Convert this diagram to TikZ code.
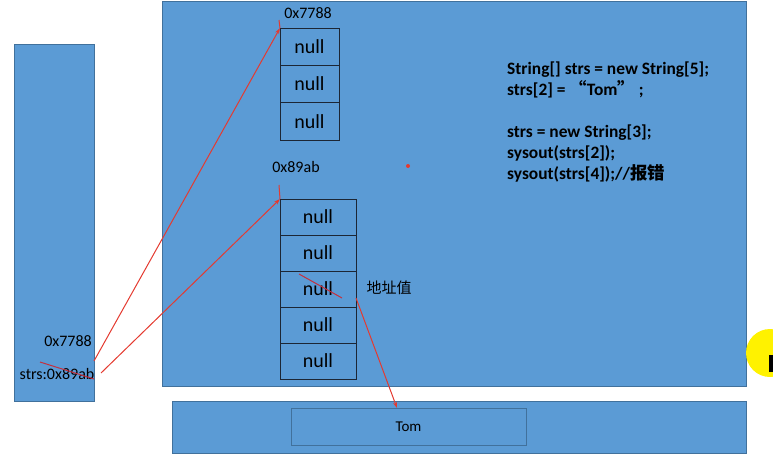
\documentclass[tikz,border=0pt]{standalone}
\usepackage{fontspec}
\setmainfont{Carlito}
\newfontfamily\cjk{Noto Sans CJK SC}
\usetikzlibrary{arrows.meta,positioning}
\definecolor{boxblue}{RGB}{91,155,213}
\definecolor{boxline}{RGB}{65,113,156}
\definecolor{cellline}{RGB}{28,38,52}
\definecolor{ptrred}{RGB}{228,58,48}
\definecolor{crossred}{RGB}{196,48,62}
\tikzset{
	area/.style={draw=boxline, fill=boxblue, line width=0.8pt},
	cell/.style={draw=cellline, line width=0.9pt, inner sep=0pt, outer sep=0pt, font=\fontsize{20}{24}\selectfont},
	shortcell/.style={cell, minimum width=59pt, minimum height=37.3pt},
	longcell/.style={cell, minimum width=76pt, minimum height=36pt},
	ptr/.style={draw=ptrred, line width=1pt, -{Stealth[length=6pt,width=4pt]}},
	lbl/.style={inner sep=0pt, font=\fontsize{16}{19}\selectfont},
	code/.style={inner sep=0pt, anchor=base west, font=\bfseries\fontsize{17.4}{21}\selectfont},
}

\begin{document}
\begin{tikzpicture}[x=1pt, y=-1pt]
		%%%%% START %%%%%
		\useasboundingbox (0,0) rectangle (773,463);
		\clip (0,0) rectangle (773,463);
		
		\draw[area] (14,44) rectangle (94,401);
		\draw[area] (162,1) rectangle (746,386);
		\draw[area] (172,401) rectangle (746,453);
		\node[area, minimum width=235pt, minimum height=37pt, inner sep=0pt, font=\fontsize{15}{18}\selectfont] (tom) at (408.5,426.5) {Tom};
		
		\node[shortcell] (a1) at (309.5,46.7) {null};
		\node[shortcell, below=0pt of a1] (a2) {null};
		\node[shortcell, below=0pt of a2] (a3) {null};
		\node[lbl] (addrA) at (308,13) {0x7788};
		
		\node[longcell] (b1) at (318,217) {null};
		\node[longcell, below=0pt of b1] (b2) {null};
		\node[longcell, below=0pt of b2] (b3) {null};
		\node[longcell, below=0pt of b3] (b4) {null};
		\node[longcell, below=0pt of b4] (b5) {null};
		\node[lbl] (addrB) at (296,167) {0x89ab};
		\node[inner sep=0pt, font=\cjk\fontsize{15}{18}\selectfont] (addr) at (389,288) {地址值};
		
		\node[lbl, anchor=east] (ref1) at (92,341) {0x7788};
		\node[lbl] (ref2) at (57,374) {strs:0x89ab};
		
		\node[code] (line1) at (507,74) {String[] strs = new String[5];};
		\node[code] (line2) at (507,95) {strs[2] = {\cjk “}Tom{\cjk ”} ;};
		\node[code] (line3) at (507,137) {strs = new String[3];};
		\node[code] (line4) at (507,158) {sysout(strs[2]);};
		\node[code] (line5) at (507,179) {sysout(strs[4]);//{\cjk 报错}};
		
		\fill[ptrred] (408,166) circle (2);
		
		\coordinate (from1) at (94,361);
		\coordinate (from2) at (101,373);
		\coordinate (from3) at (356,298);
		\coordinate (to3) at (397,408);
		\draw[ptr] (from1) -- (a1.north west);
		\draw[ptr] (from2) -- (b1.north west);
		\draw[ptr] (from3) -- (to3);
		\draw[ptrred, line width=1pt] (279,20) -- (a1.north west);
		\draw[ptrred, line width=1pt] (279,185) -- (b1.north west);
		
		\draw[crossred, line width=1pt] (40,362) -- (94,379);
		\draw[crossred, line width=1pt] (299,274) -- (342,298);
		
		\fill[yellow] (770,353) circle (24);
		\fill[black] (769,355) rectangle (773,372);
		
		%%%%% END %%%%%
	\end{tikzpicture}
\end{document}
